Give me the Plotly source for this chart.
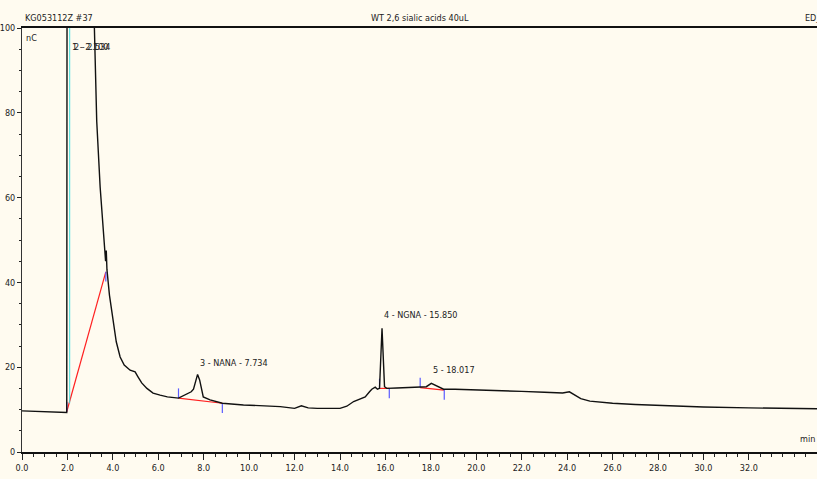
import plotly.graph_objects as go

# ---- data ----
time_min = [0.0, 1.0, 1.97, 1.99, 2.5, 3.0, 3.18, 3.29, 3.44, 3.58, 3.68, 3.71, 3.74, 3.85,
            4.02, 4.15, 4.32, 4.5, 4.76, 4.98, 5.1, 5.27, 5.5, 5.77, 6.08, 6.4, 6.89, 7.1,
            7.25, 7.45, 7.55, 7.65, 7.73, 7.82, 7.9, 7.98, 8.28, 8.82, 9.75, 11.37, 12.0,
            12.3, 12.6, 13.0, 14.0, 14.3, 14.6, 14.9, 15.11, 15.3, 15.4, 15.55, 15.65, 15.74,
            15.85, 15.96, 16.06, 16.5, 17.0, 17.53, 17.8, 18.02, 18.3, 18.56, 19.07, 20.6,
            22.0, 23.0, 23.8, 24.1, 24.3, 24.6, 25.0, 26.0, 27.0, 28.0, 30.0, 32.0, 35.0]
signal_nc = [9.7, 9.5, 9.3, 160.0, 170.0, 140.0, 100.0, 78.0, 62.5, 50.7, 45.0, 47.5, 43.0, 37.0,
             31.0, 26.0, 22.4, 20.5, 19.3, 18.9, 17.8, 16.3, 15.0, 13.9, 13.4, 13.0, 12.7, 13.3,
             13.8, 14.2, 14.8, 17.0, 18.3, 17.0, 14.5, 13.0, 12.3, 11.5, 11.1, 10.7, 10.3,
             10.9, 10.4, 10.3, 10.3, 10.8, 11.9, 12.5, 13.0, 14.2, 14.8, 15.3, 14.8, 15.0,
             29.2, 15.4, 15.0, 15.1, 15.2, 15.2, 15.4, 16.2, 15.4, 14.8, 14.8, 14.6,
             14.3, 14.1, 13.9, 14.2, 13.6, 12.6, 12.0, 11.5, 11.2, 11.0, 10.6, 10.4, 10.2]

# integration baselines (start/end time and level)
base_start_t = [1.97, 6.89, 15.74, 17.53]
base_start_v = [9.5, 12.7, 15.0, 15.2]
base_end_t = [3.69, 8.82, 16.17, 18.59]
base_end_v = [42.5, 11.5, 15.0, 14.6]

# peak labels
peak_label_t = [2.1, 2.2, 7.734, 15.85, 18.017]
peak_label_y = [95.5, 95.5, 21.0, 32.3, 19.3]
peak_label_txt = ["1 - 2.100", "2 - 2.534", "3 - NANA - 7.734", "4 - NGNA - 15.850", "5 - 18.017"]

peak1_marker_t = 2.1
peak1_marker_range = [11.5, 100.0]

x_ticks = [0, 2, 4, 6, 8, 10, 12, 14, 16, 18, 20, 22, 24, 26, 28, 30, 32, 35]
y_ticks = [0, 20, 40, 60, 80, 100]

FONT = "Liberation Sans Narrow, Arial Narrow, DejaVu Sans Condensed, sans-serif"
BG = "#fffbf0"
FS = 9

fig = go.Figure()

# baselines (red)
bx, by = [], []
for t0, v0, t1, v1 in zip(base_start_t, base_start_v, base_end_t, base_end_v):
    bx += [t0, t1, None]
    by += [v0, v1, None]
fig.add_trace(go.Scatter(x=bx, y=by, mode="lines", line=dict(color="#ff2020", width=1.2),
                         hoverinfo="skip", showlegend=False))

# delimiter ticks (blue): start up, end down
tx, ty = [], []
for t0, v0, t1, v1 in zip(base_start_t, base_start_v, base_end_t, base_end_v):
    tx += [t0, t0, None, t1, t1, None]
    ty += [v0, v0 + 2.3, None, v1, v1 - 2.3, None]
fig.add_trace(go.Scatter(x=tx, y=ty, mode="lines", line=dict(color="#5b5bff", width=1.2),
                         hoverinfo="skip", showlegend=False))

# peak 1 marker (cyan)
fig.add_trace(go.Scatter(x=[peak1_marker_t, peak1_marker_t], y=peak1_marker_range, mode="lines",
                         line=dict(color="#40e0e0", width=1), hoverinfo="skip", showlegend=False))

# signal
fig.add_trace(go.Scatter(x=time_min, y=signal_nc, mode="lines",
                         line=dict(color="#111111", width=1.4), showlegend=False))

for t, y, s in zip(peak_label_t, peak_label_y, peak_label_txt):
    fig.add_annotation(x=t, y=y, text=s, showarrow=False, xanchor="left", yanchor="middle",
                       font=dict(family=FONT, size=FS, color="#222222"))

hdr = dict(showarrow=False, xref="paper", yref="paper", yanchor="middle",
           font=dict(family=FONT, size=FS, color="#222222"))
fig.add_annotation(x=0.001, y=1.024, text="KG053112Z #37", xanchor="left", **hdr)
fig.add_annotation(x=0.501, y=1.024, text="WT 2,6 sialic acids 40uL", xanchor="center", **hdr)
fig.add_annotation(x=0.982, y=1.024, text="ED_1", xanchor="left", **hdr)
fig.add_annotation(x=0.003, y=0.976, text="nC", xanchor="left", **hdr)
fig.add_annotation(x=1.0, y=0.03, text="min", xanchor="right", **hdr)

fig.update_layout(
    width=817, height=479,
    margin=dict(l=22, r=0, t=28, b=27),
    paper_bgcolor=BG, plot_bgcolor=BG,
    font=dict(family=FONT, size=FS, color="#222222"),
    xaxis=dict(range=[0, 35], tickvals=x_ticks, ticktext=[f"{v:.1f}" for v in x_ticks],
               ticks="outside", ticklen=6, tickcolor="#222", tickwidth=1,
               showline=True, linecolor="#111", linewidth=1.5, mirror=True,
               showgrid=False, zeroline=False, automargin=False,
               minor=dict(dtick=0.5, tick0=0, ticks="outside", ticklen=3, tickcolor="#222")),
    yaxis=dict(range=[0, 100], tickvals=y_ticks, ticks="outside", ticklen=4, tickcolor="#222",
               showline=True, linecolor="#333", linewidth=1,
               showgrid=False, zeroline=False, automargin=False, ticklabelstandoff=0,
               minor=dict(dtick=5, tick0=0, ticks="outside", ticklen=2, tickcolor="#222")),
)

fig.write_html("out.html", config={"displayModeBar": False},
               post_script="document.body.style.margin='0';document.body.style.background='" + BG + "';")
